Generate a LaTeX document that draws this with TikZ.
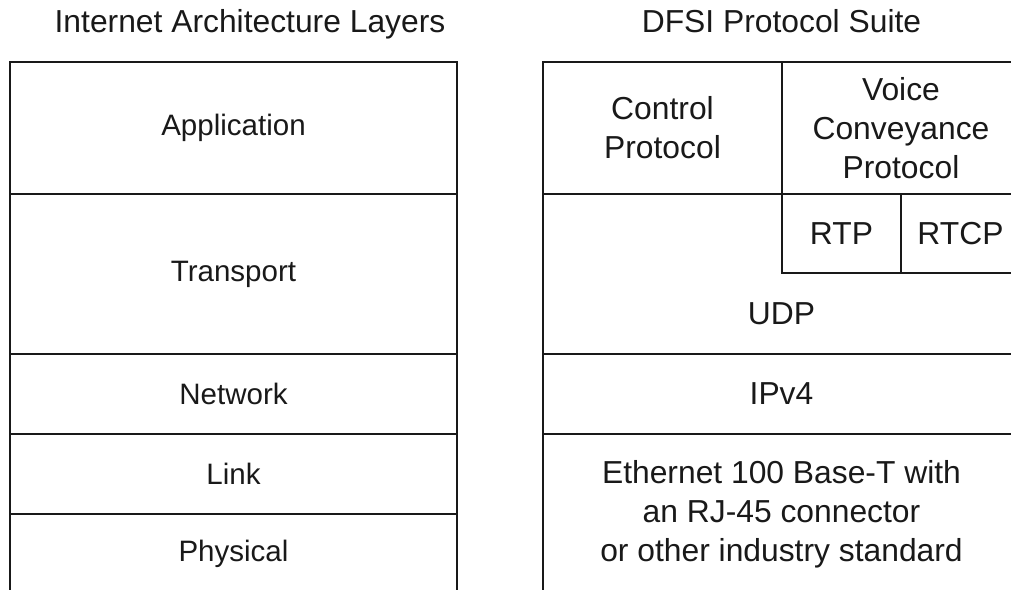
\documentclass[tikz,border=0pt]{standalone}
\usepackage{fontspec}
\setmainfont{Liberation Sans}
\usepackage{tikz}
\usetikzlibrary{positioning}
\tikzset{
    cell/.style = {rectangle, draw=black!90, line width=1.6pt, inner sep=0pt, outer sep=0pt, align=center},
    layer/.style = {cell, font=\fontsize{16.8}{21}\selectfont},
    subcell/.style = {rectangle, draw=black!90, line width=1.3pt, inner sep=0pt, outer sep=0pt, align=center},
    txt/.style = {align=center, inner sep=0pt},
    ttl/.style = {anchor=base, inner sep=0pt}
}

\begin{document}
\begin{tikzpicture}[
  font=\fontsize{18.1}{22.1}\selectfont,
  text=black!90]
\useasboundingbox (0,0) rectangle (20.22,-11.8);

% titles
\node[ttl] (tleft)  at ( 5.00,-0.64) {Internet Architecture Layers};
\node[ttl] (tright) at (15.63,-0.64) {DFSI Protocol Suite};

% internet layers
\node[layer, minimum width=8.94cm, minimum height=2.64cm] (app)   at (4.67,-2.56)  {Application};
\node[layer, minimum width=8.94cm, minimum height=3.20cm] (trans) at (4.67,-5.48)  {Transport};
\node[layer, minimum width=8.94cm, minimum height=1.60cm] (net)   at (4.67,-7.88)  {Network};
\node[layer, minimum width=8.94cm, minimum height=1.60cm] (link)  at (4.67,-9.48)  {Link};
\node[layer, minimum width=8.94cm, minimum height=1.60cm] (phys)  at (4.67,-11.08) {Physical};

% dfsi suite
\node[cell, minimum width=4.78cm, minimum height=2.64cm] (ctrl)  at (13.25,-2.56) {Control\\Protocol};
\node[cell, minimum width=4.76cm, minimum height=2.64cm] (voice) at (18.02,-2.56) {Voice\\Conveyance\\Protocol};
\node[cell, minimum width=9.54cm, minimum height=3.20cm] (udp)   at (15.63,-5.48) {};
\node[subcell, minimum width=2.38cm, minimum height=1.58cm] (rtp)  at (16.83,-4.67) {RTP};
\node[subcell, minimum width=2.38cm, minimum height=1.58cm] (rtcp) at (19.21,-4.67) {RTCP};
\node[txt] (udptxt) at (15.63,-6.27) {UDP};
\node[cell, minimum width=9.54cm, minimum height=1.60cm] (ip)    at (15.63,-7.88) {IPv4};
\node[cell, minimum width=9.54cm, minimum height=3.20cm] (eth)   at (15.63,-10.28)
  {Ethernet 100 Base-T with\\an RJ-45 connector\\or other industry standard};

\end{tikzpicture}
\end{document}
